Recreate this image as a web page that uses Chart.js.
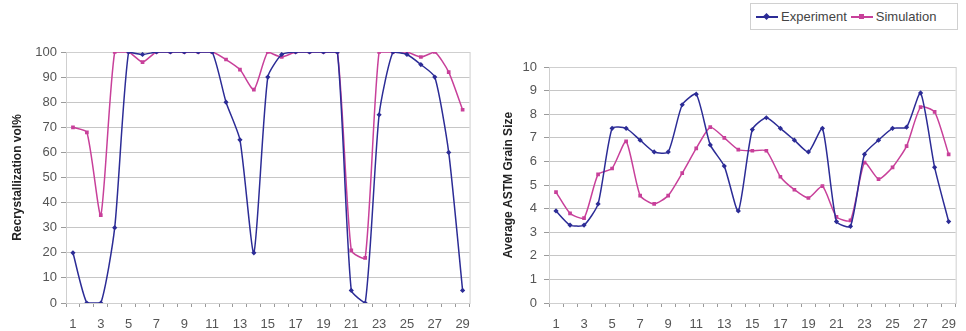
<!DOCTYPE html>
<html>
<head>
<meta charset="utf-8">
<script src="https://cdn.jsdelivr.net/npm/chart.js@4.4.1/dist/chart.umd.min.js"></script>
<style>
    html, body { margin: 0; padding: 0; background: #fff; overflow: hidden; }
    body { width: 966px; height: 331px; position: relative; font-family: "Liberation Sans", Arial, sans-serif; }
    .chart-box { position: absolute; }
    #leftBox { left: 0; top: 30px; width: 480px; height: 313px; }
    #rightBox { left: 480px; top: 30px; width: 486px; height: 313px; }
    .legend {
        position: absolute; left: 750px; top: 3px; width: 206px; height: 25px;
        border: 1px solid #d0d0d0; display: flex; align-items: center;
        font-size: 13px; color: #444; white-space: nowrap;
    }
    .legend .item { display: flex; align-items: center; margin-left: 5px; }
    .legend .swatch { position: relative; width: 22px; height: 10px; margin-right: 3px; }
    .legend .swatch::before { content: ''; position: absolute; left: 0; right: 0; top: 4px; height: 2px; background: var(--c); }
    .legend .mark { position: absolute; left: 8px; top: 2px; width: 5px; height: 5px; background: var(--c); }
    .legend .mark.diamond { transform: rotate(45deg); }
</style>
</head>
<body>

<div class="legend">
    <div class="item"><span class="swatch" style="--c:#2c2c96"><span class="mark diamond"></span></span>Experiment</div>
    <div class="item" style="margin-left:4px"><span class="swatch" style="--c:#c8409a"><span class="mark"></span></span>Simulation</div>
</div>

<div class="chart-box" id="leftBox"><canvas id="volChart"></canvas></div>
<div class="chart-box" id="rightBox"><canvas id="grainChart"></canvas></div>

<script>
// Sample numbers 1..29
const categories = [1, 2, 3, 4, 5, 6, 7, 8, 9, 10, 11, 12, 13, 14, 15, 16, 17, 18, 19, 20, 21, 22, 23, 24, 25, 26, 27, 28, 29];

// Recrystallization vol%
const expVol = [20, 0, 0, 30, 100, 99, 100, 100, 100, 100, 100, 80, 65, 20, 90, 99, 100, 100, 100, 100, 5, 0, 75, 100, 99, 95, 90, 60, 5];
const simVol = [70, 68, 35, 100, 100, 96, 100, 100, 100, 100, 100, 97, 93, 85, 100, 98, 100, 100, 100, 100, 21, 18, 100, 100, 100, 98, 100, 92, 77];

// Average ASTM grain size
const expGrain = [3.9, 3.3, 3.3, 4.2, 7.4, 7.4, 6.9, 6.4, 6.4, 8.4, 8.85, 6.7, 5.8, 3.9, 7.35, 7.85, 7.4, 6.9, 6.4, 7.4, 3.45, 3.25, 6.3, 6.9, 7.4, 7.45, 8.9, 5.75, 3.45];
const simGrain = [4.7, 3.8, 3.6, 5.45, 5.7, 6.85, 4.55, 4.2, 4.55, 5.5, 6.55, 7.45, 7.0, 6.5, 6.45, 6.45, 5.35, 4.8, 4.45, 4.95, 3.65, 3.5, 5.95, 5.25, 5.75, 6.65, 8.3, 8.1, 6.3];

const volRange = { min: 0, max: 100, step: 10 };
const grainRange = { min: 0, max: 10, step: 1 };

const BLUE = '#2c2c96';
const PINK = '#c8409a';
const GRID = '#c6c6c6';
const AXIS = '#9a9a9a';
const TEXT = '#555';

// draws the grey frame round the plot area, like the original spreadsheet chart
const plotFrame = {
    id: 'plotFrame',
    beforeDatasetsDraw(chart) {
        const { ctx, chartArea } = chart;
        ctx.save();
        ctx.strokeStyle = '#cfcfcf';
        ctx.lineWidth = 1;
        ctx.strokeRect(chartArea.left + 0.5, chartArea.top + 0.5, chartArea.width, chartArea.height);
        ctx.restore();
    }
};

function makeChart(canvasId, expData, simData, range, title, opts) {
    const ctx = document.getElementById(canvasId).getContext('2d');
    return new Chart(ctx, {
        type: 'line',
        data: {
            labels: categories,
            datasets: [{
                label: 'Experiment',
                data: expData,
                borderColor: BLUE,
                backgroundColor: BLUE,
                borderWidth: 1.5,
                pointStyle: 'rectRot',
                pointRadius: 2.6,
                pointBorderWidth: 0,
                tension: 0.2
            }, {
                label: 'Simulation',
                data: simData,
                borderColor: PINK,
                backgroundColor: PINK,
                borderWidth: 1.5,
                pointStyle: 'rect',
                pointRadius: 2.6,
                pointBorderWidth: 0,
                tension: 0.2
            }]
        },
        options: {
            responsive: true,
            maintainAspectRatio: false,
            animation: false,
            layout: { padding: { top: opts.top, right: opts.right, left: 0, bottom: 0 } },
            scales: {
                x: {
                    offset: true,
                    grid: {
                        offset: true,
                        drawOnChartArea: false,
                        drawTicks: true,
                        tickLength: 4,
                        color: AXIS
                    },
                    border: { color: AXIS },
                    ticks: {
                        autoSkip: false,
                        maxRotation: 0,
                        padding: 10,
                        color: TEXT,
                        font: { family: 'Liberation Sans', size: 13 },
                        callback: function(val, i) {
                            return i % 2 === 0 ? categories[i] : '';
                        }
                    },
                    afterFit: function(scale) { scale.height = 40; }
                },
                y: {
                    min: range.min,
                    max: range.max,
                    grid: {
                        color: GRID,
                        tickLength: 5,
                        tickColor: AXIS
                    },
                    border: { color: AXIS },
                    ticks: {
                        stepSize: range.step,
                        padding: opts.tickPad,
                        color: TEXT,
                        font: { family: 'Liberation Sans', size: 13 }
                    },
                    title: {
                        display: true,
                        text: title,
                        color: '#222',
                        padding: { top: opts.titlePad, bottom: 0 },
                        font: { family: 'Liberation Sans', size: 12, weight: 'bold' }
                    },
                    afterFit: function(scale) { scale.width = opts.axisWidth; }
                }
            },
            plugins: {
                legend: { display: false },
                tooltip: { enabled: false }
            }
        },
        plugins: [plotFrame]
    });
}

document.addEventListener('DOMContentLoaded', function() {
    makeChart('volChart', expVol, simVol, volRange, 'Recrystallization vol%',
        { top: 22, right: 9, axisWidth: 66, tickPad: 4, titlePad: 10 });
    makeChart('grainChart', expGrain, simGrain, grainRange, 'Average ASTM Grain Size',
        { top: 37, right: 7, axisWidth: 69, tickPad: 7, titlePad: 21 });
});
</script>
</body>
</html>
